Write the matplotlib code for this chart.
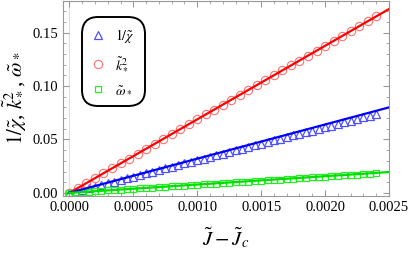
import matplotlib
matplotlib.use("Agg")
import matplotlib.pyplot as plt
from matplotlib.ticker import MultipleLocator, FormatStrFormatter

plt.rcParams['font.family'] = ['Liberation Serif', 'DejaVu Serif']
plt.rcParams['mathtext.fontset'] = 'stix'

# data points (J - Jc) for 1/chi and omega
dj = [0.00000, 0.00005, 0.00010, 0.00015, 0.00020, 0.00025, 0.00030, 0.00035, 0.00040, 0.00045,
      0.00050, 0.00055, 0.00060, 0.00065, 0.00070, 0.00075, 0.00080, 0.00085, 0.00090, 0.00095,
      0.00100, 0.00105, 0.00110, 0.00115, 0.00120, 0.00125, 0.00130, 0.00135, 0.00140, 0.00145,
      0.00150, 0.00155, 0.00160, 0.00165, 0.00170, 0.00175, 0.00180, 0.00185, 0.00190, 0.00195,
      0.00200, 0.00205, 0.00210, 0.00215, 0.00220, 0.00225, 0.00230, 0.00235, 0.00240]
inv_chi = [0.0000, 0.0013, 0.0028, 0.0044, 0.0059, 0.0075, 0.0090, 0.0106, 0.0121, 0.0136,
           0.0152, 0.0167, 0.0183, 0.0198, 0.0214, 0.0229, 0.0244, 0.0260, 0.0275, 0.0291,
           0.0306, 0.0321, 0.0337, 0.0352, 0.0368, 0.0383, 0.0398, 0.0414, 0.0429, 0.0445,
           0.0460, 0.0475, 0.0491, 0.0506, 0.0522, 0.0537, 0.0552, 0.0568, 0.0583, 0.0599,
           0.0614, 0.0629, 0.0645, 0.0660, 0.0676, 0.0691, 0.0706, 0.0722, 0.0737]
omega = [0.0000, 0.0004, 0.0008, 0.0011, 0.0015, 0.0019, 0.0023, 0.0027, 0.0030, 0.0034,
         0.0038, 0.0042, 0.0046, 0.0049, 0.0053, 0.0057, 0.0061, 0.0065, 0.0068, 0.0072,
         0.0076, 0.0080, 0.0084, 0.0087, 0.0091, 0.0095, 0.0099, 0.0103, 0.0106, 0.0110,
         0.0114, 0.0118, 0.0122, 0.0125, 0.0129, 0.0133, 0.0137, 0.0141, 0.0144, 0.0148,
         0.0152, 0.0156, 0.0160, 0.0163, 0.0167, 0.0171, 0.0175, 0.0179, 0.0182]

# data points for k^2 (coarser spacing)
dj_k = [0.0000000, 0.0000667, 0.0001333, 0.0002000, 0.0002667, 0.0003333, 0.0004000,
        0.0004667, 0.0005333, 0.0006000, 0.0006667, 0.0007333, 0.0008000, 0.0008667,
        0.0009333, 0.0010000, 0.0010667, 0.0011333, 0.0012000, 0.0012667, 0.0013333,
        0.0014000, 0.0014667, 0.0015333, 0.0016000, 0.0016667, 0.0017333, 0.0018000,
        0.0018667, 0.0019333, 0.0020000, 0.0020667, 0.0021333, 0.0022000, 0.0022667,
        0.0023333, 0.0024000]
k2 = [0.0000, 0.0046, 0.0092, 0.0138, 0.0183, 0.0229, 0.0275, 0.0321, 0.0367, 0.0413,
      0.0459, 0.0505, 0.0550, 0.0596, 0.0642, 0.0688, 0.0734, 0.0780, 0.0826, 0.0871,
      0.0917, 0.0963, 0.1009, 0.1055, 0.1101, 0.1147, 0.1193, 0.1238, 0.1284, 0.1330,
      0.1376, 0.1422, 0.1468, 0.1514, 0.1559, 0.1605, 0.1651]

# fitted lines
fit_x = [0.0000, 0.0025]
fit_chi = [0.0000, 0.0800]
fit_k2 = [0.0000, 0.1720]
fit_omega = [0.0000, 0.0195]

fig = plt.figure(figsize=(4.09, 2.56), dpi=100)
ax = fig.add_axes([0.154, 0.234, 0.797, 0.764])

ax.axvline(0, color='#dddddd', lw=0.8, zorder=0)

ax.plot(dj, inv_chi, ls='none', marker='^', ms=5.2, mfc='none', mec='#5050ff',
        mew=0.9, label=r'$1/\tilde{\chi}$', zorder=2)
ax.plot(dj_k, k2, ls='none', marker='o', ms=6, mfc='none', mec='#ff7070',
        mew=0.8, label=r'$\tilde{k}_*^2$', zorder=2)
ax.plot(dj, omega, ls='none', marker='s', ms=4.4, mfc='none', mec='#22ee22',
        mew=0.9, label=r'$\tilde{\omega}_*$', zorder=2)

ax.plot(fit_x, fit_k2, color='red', lw=1.6, zorder=3)
ax.plot(fit_x, fit_chi, color='blue', lw=1.6, zorder=3)
ax.plot(fit_x, fit_omega, color='#00dd00', lw=1.6, zorder=3)

ax.set_xlim(-0.00005, 0.0025)
ax.set_ylim(-0.003, 0.180)
ax.xaxis.set_major_locator(MultipleLocator(0.0005))
ax.xaxis.set_minor_locator(MultipleLocator(0.0001))
ax.yaxis.set_major_locator(MultipleLocator(0.05))
ax.yaxis.set_minor_locator(MultipleLocator(0.01))
ax.xaxis.set_major_formatter(FormatStrFormatter('%.4f'))
ax.yaxis.set_major_formatter(FormatStrFormatter('%.2f'))
ax.tick_params(which='both', direction='in', top=True, right=True,
               color='#999999', labelsize=10.5)
ax.tick_params(which='major', length=4)
ax.tick_params(which='minor', length=2)
for s in ax.spines.values():
    s.set_color('#999999')
    s.set_linewidth(0.8)

ax.set_xlabel(r'$\tilde{J}-\tilde{J}_c$', fontsize=15, labelpad=8)
ax.set_ylabel(r'$1/\tilde{\chi}$, $\tilde{k}_*^2$, $\tilde{\omega}_*$', fontsize=15, labelpad=4)

leg = ax.legend(loc='upper left', bbox_to_anchor=(0.045, 0.935), fontsize=10,
                frameon=True, handletextpad=0.7, labelspacing=0.8,
                borderpad=0.5, handlelength=1.0)
frame = leg.get_frame()
frame.set_edgecolor('black')
frame.set_linewidth(1.4)
frame.set_boxstyle('round,pad=0.2,rounding_size=1.2')
leg.get_frame().set_alpha(1)

fig.savefig('out.png', dpi=100)
